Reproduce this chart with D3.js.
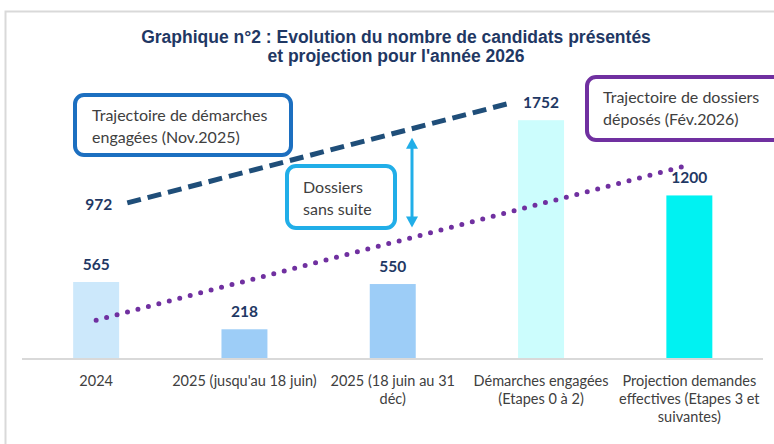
<!DOCTYPE html>
<html><head><meta charset="utf-8">
<script src="https://cdn.jsdelivr.net/npm/d3@7"></script>
<style>
html,body{margin:0;padding:0;background:#fff;}
svg{display:block;}
</style></head>
<body>
<svg id="chart" width="774" height="444"></svg>
<script>
// ---- data ----
const categories = [
  ["2024"],
  ["2025 (jusqu'au 18 juin)"],
  ["2025 (18 juin au 31", "déc)"],
  ["Démarches engagées", "(Etapes 0 à 2)"],
  ["Projection demandes", "effectives (Etapes 3 et", "suivantes)"]
];
const values = [565, 218, 550, 1752, 1200];
const barColors = ["#cce8fb", "#9dcdf7", "#9dcdf7", "#ccfdfd", "#00f2f2"];
// trajectory lines (x in category index units, y in value units)
const engagedTrajX = [0.21, 2.80];
const engagedTrajY = [1145, 1880];
const engagedTrajStartLabel = "972"; // end value 1752 is shown by the bar label
const depositedTrajX = [0.0, 3.97];
const depositedTrajY = [285, 1415];
const titleLines = ["Graphique n°2 : Evolution du nombre de candidats présentés", "et projection pour l'année 2026"];

// ---- setup ----
const svg = d3.select("#chart");
const W = 774, H = 444;
const navy = "#1f3864";
const textGray = "#404040";
const bodyFont = "Lato, 'Open Sans', sans-serif";

// frame
svg.append("path")
  .attr("d", `M5.5,${H} L5.5,11.5 L${W},11.5`)
  .attr("fill", "none").attr("stroke", "#d9d9d9").attr("stroke-width", 2);

// title
svg.append("g").selectAll("text").data(titleLines).join("text")
  .attr("x", 396).attr("y", (d, i) => 43 + i * 18.5)
  .attr("text-anchor", "middle")
  .attr("font-family", "'Liberation Sans Narrow', 'Liberation Sans', Arial, sans-serif")
  .attr("font-weight", "bold").attr("font-size", 17.5)
  .attr("fill", navy)
  .text(d => d);

// scales
const x = d3.scaleBand().domain(d3.range(categories.length))
  .range([22, 763.5]).paddingInner(0.69).paddingOuter(0.345);
const y = d3.scaleLinear().domain([0, 2000]).range([359, 86.4]);
const xi = d3.scaleLinear().domain([0, categories.length - 1])
  .range([x(0) + x.bandwidth() / 2, x(categories.length - 1) + x.bandwidth() / 2]);

// bars
svg.append("g").selectAll("rect").data(values).join("rect")
  .attr("x", (d, i) => x(i)).attr("width", x.bandwidth())
  .attr("y", d => y(d)).attr("height", d => y(0) - y(d))
  .attr("fill", (d, i) => barColors[i]);

// axis line
const xAxis = d3.axisBottom(x).tickSize(0).tickFormat("");
const ax = svg.append("g").attr("transform", `translate(0,${y(0)})`).call(xAxis);
ax.select(".domain").attr("stroke", "#d9d9d9").attr("stroke-width", 2).attr("d", "M22,0H763");

// category labels
const catG = svg.append("g");
categories.forEach((lines, i) => {
  catG.append("text")
    .attr("x", x(i) + x.bandwidth() / 2).attr("y", 386)
    .attr("text-anchor", "middle")
    .attr("font-family", bodyFont).attr("font-size", 14.5).attr("fill", textGray)
    .selectAll("tspan").data(lines).join("tspan")
    .attr("x", x(i) + x.bandwidth() / 2).attr("dy", (d, j) => j === 0 ? 0 : 18)
    .text(d => d);
});

// value labels
svg.append("g").selectAll("text").data(values).join("text")
  .attr("x", (d, i) => x(i) + x.bandwidth() / 2)
  .attr("y", d => y(d) - 12)
  .attr("text-anchor", "middle")
  .attr("font-family", bodyFont).attr("font-weight", "bold").attr("font-size", 15.5)
  .attr("fill", navy)
  .text(d => d);

// dotted purple trajectory
const purple = "#7030a0";
const line = d3.line().x(d => xi(d[0])).y(d => y(d[1]));
svg.append("path")
  .datum(depositedTrajX.map((v, i) => [v, depositedTrajY[i]]))
  .attr("d", line)
  .attr("fill", "none").attr("stroke", purple).attr("stroke-width", 5)
  .attr("stroke-linecap", "round").attr("stroke-dasharray", "0 10.8");

// dashed navy trajectory
const dashNavy = "#1f4e79";
svg.append("path")
  .datum(engagedTrajX.map((v, i) => [v, engagedTrajY[i]]))
  .attr("d", line)
  .attr("fill", "none").attr("stroke", dashNavy).attr("stroke-width", 5)
  .attr("stroke-dasharray", "14 7");

// trajectory start label
svg.append("text")
  .attr("x", xi(engagedTrajX[0]) - 15).attr("y", y(engagedTrajY[0]) + 7)
  .attr("text-anchor", "end")
  .attr("font-family", bodyFont).attr("font-weight", "bold").attr("font-size", 15.5)
  .attr("fill", navy).text(engagedTrajStartLabel);

// boxes
function box(x0, y0, w, h, stroke, lines, tx, ty) {
  svg.append("rect").attr("x", x0).attr("y", y0).attr("width", w).attr("height", h)
    .attr("rx", 9).attr("fill", "#fff").attr("stroke", stroke).attr("stroke-width", 4);
  const t = svg.append("text").attr("font-family", bodyFont).attr("font-size", 16)
    .attr("fill", textGray);
  t.selectAll("tspan").data(lines).join("tspan")
    .attr("x", tx).attr("y", (d, i) => ty + i * 21.5).text(d => d);
}
box(75, 95, 216, 60, "#1c6fc0", ["Trajectoire de démarches", "engagées (Nov.2025)"], 92, 121);
box(287, 166, 108, 62, "#21aee8", ["Dossiers", "sans suite"], 303, 193);
box(587, 77, 200, 63, purple, ["Trajectoire de dossiers", "déposés (Fév.2026)"], 603, 103);

// double arrow between trajectories
const arrowBlue = "#21aee8";
const ax0 = 412;
const interp = (xs, ys, px) => {
  const t = (xi.invert(px) - xs[0]) / (xs[1] - xs[0]);
  return y(ys[0] + t * (ys[1] - ys[0]));
};
const aTop = interp(engagedTrajX, engagedTrajY, ax0) + 9;
const aBot = interp(depositedTrajX, depositedTrajY, ax0) - 10;
svg.append("line").attr("x1", ax0).attr("x2", ax0).attr("y1", aTop + 8).attr("y2", aBot - 8)
  .attr("stroke", arrowBlue).attr("stroke-width", 3);
svg.append("path").attr("d", `M${ax0},${aTop} L${ax0 - 6},${aTop + 11} L${ax0 + 6},${aTop + 11} Z`).attr("fill", arrowBlue);
svg.append("path").attr("d", `M${ax0},${aBot} L${ax0 - 6},${aBot - 11} L${ax0 + 6},${aBot - 11} Z`).attr("fill", arrowBlue);
</script>
</body></html>
